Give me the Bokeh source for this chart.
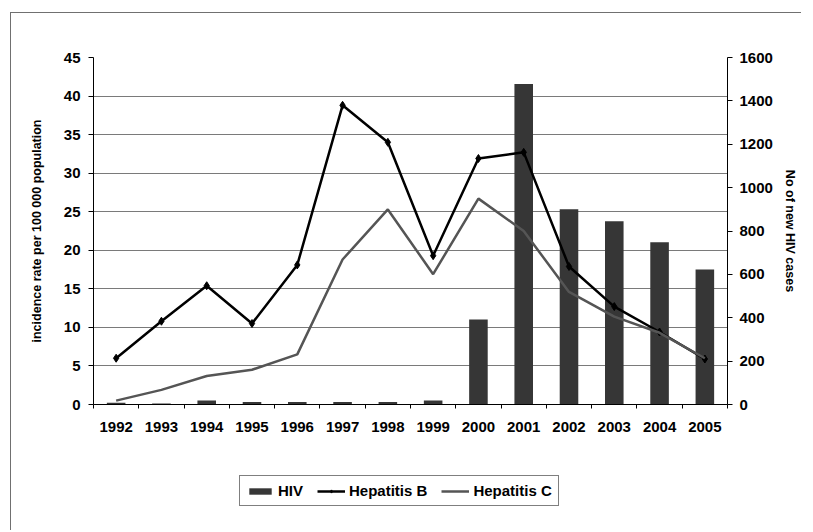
from bokeh.plotting import figure
from bokeh.models import Range1d, LinearAxis, FixedTicker, Legend, LegendItem
from bokeh.layouts import column
from bokeh.embed import file_html
from bokeh.resources import INLINE

years = [1992, 1993, 1994, 1995, 1996, 1997, 1998, 1999, 2000, 2001, 2002, 2003, 2004, 2005]
hiv = [8, 5, 18, 12, 12, 12, 12, 18, 392, 1478, 900, 845, 748, 623]
hep_b = [6.0, 10.8, 15.4, 10.5, 18.1, 38.8, 34.0, 19.3, 31.9, 32.7, 17.9, 12.7, 9.4, 5.9]
hep_c = [0.5, 1.9, 3.7, 4.5, 6.5, 18.8, 25.3, 16.9, 26.7, 22.5, 14.6, 11.4, 9.3, 6.0]
left_ticks = [0, 5, 10, 15, 20, 25, 30, 35, 40, 45]
right_ticks = [0, 200, 400, 600, 800, 1000, 1200, 1400, 1600]
series_names = ["HIV", "Hepatitis B", "Hepatitis C"]

FONT = "Liberation Sans"
BAR_COLOR = "#363636"
HEPB_COLOR = "black"
HEPC_COLOR = "#555555"

p = figure(width=790, height=451, output_backend="svg", toolbar_location=None,
           x_range=Range1d(years[0] - 0.5, years[-1] + 0.5),
           y_range=Range1d(left_ticks[0], left_ticks[-1]),
           min_border_left=82, min_border_right=74, min_border_top=44, min_border_bottom=60,
           frame_width=634, frame_height=347)
p.extra_y_ranges = {"hiv": Range1d(right_ticks[0], right_ticks[-1])}
p.outline_line_color = None
p.background_fill_color = "white"
p.border_fill_color = "white"

# bars and lines
p.vbar(x=years, top=hiv, width=0.41, bottom=0, y_range_name="hiv",
       fill_color=BAR_COLOR, line_color=None)
p.line(years, hep_b, line_color=HEPB_COLOR, line_width=2.5)
p.scatter(years, hep_b, marker="diamond", size=8, fill_color=HEPB_COLOR, line_color=HEPB_COLOR)
p.line(years, hep_c, line_color=HEPC_COLOR, line_width=2.5)

# x axis
xax = p.xaxis[0]
xax.ticker = FixedTicker(ticks=years, minor_ticks=[y - 0.5 for y in years] + [years[-1] + 0.5])
xax.major_tick_line_color = None
xax.major_tick_out = 0
xax.major_tick_in = 0
xax.minor_tick_out = 4
xax.minor_tick_in = 0
xax.minor_tick_line_color = "black"
xax.axis_line_color = "black"
xax.major_label_standoff = 13
xax.major_label_text_font = FONT
xax.major_label_text_font_style = "bold"
xax.major_label_text_font_size = "15px"
xax.major_label_text_color = "black"
p.xgrid.visible = False

# left axis
yax = p.yaxis[0]
yax.ticker = FixedTicker(ticks=left_ticks)
yax.minor_tick_line_color = None
yax.major_tick_out = 5
yax.major_tick_in = 0
yax.major_tick_line_color = "black"
yax.axis_line_color = "black"
yax.major_label_standoff = 8
yax.major_label_text_font = FONT
yax.major_label_text_font_style = "bold"
yax.major_label_text_font_size = "15px"
yax.major_label_text_color = "black"
yax.axis_label = "incidence rate per 100 000 population"
yax.axis_label_text_font = FONT
yax.axis_label_text_font_style = "bold"
yax.axis_label_text_font_size = "12.5px"
yax.axis_label_text_color = "black"
yax.axis_label_standoff = 17
p.ygrid.ticker = FixedTicker(ticks=left_ticks)
p.ygrid.grid_line_color = "#7a7a7a"
p.ygrid.grid_line_width = 1

# right axis
rax = LinearAxis(y_range_name="hiv", ticker=FixedTicker(ticks=right_ticks))
rax.minor_tick_line_color = None
rax.major_tick_out = 5
rax.major_tick_in = 0
rax.major_tick_line_color = "black"
rax.axis_line_color = "black"
rax.major_label_standoff = 7
rax.major_label_text_font = FONT
rax.major_label_text_font_style = "bold"
rax.major_label_text_font_size = "15px"
rax.major_label_text_color = "black"
rax.axis_label = "No of new HIV cases"
rax.axis_label_text_font = FONT
rax.axis_label_text_font_style = "bold"
rax.axis_label_text_font_size = "12.5px"
rax.axis_label_text_color = "black"
rax.axis_label_standoff = 7
p.add_layout(rax, "right")

# legend strip below the chart (a separate canvas so it is not clipped);
# its swatch renderers hold one point each, placed outside the visible range
lf = figure(width=790, height=66, output_backend="svg", toolbar_location=None,
            x_range=Range1d(0, 1), y_range=Range1d(0, 1), min_border=0)
lf.axis.visible = False
lf.grid.visible = False
lf.outline_line_color = None
lf.background_fill_color = "white"
lf.border_fill_color = "white"
g_hiv = lf.vbar(x=[-10], top=[-10], bottom=[-11], width=0.4, fill_color=BAR_COLOR, line_color=None)
g_b = lf.line([-10, -9], [-10, -10], line_color=HEPB_COLOR, line_width=2.5)
g_bm = lf.scatter([-10], [-10], marker="diamond", size=8, fill_color=HEPB_COLOR, line_color=HEPB_COLOR)
g_c = lf.line([-10, -9], [-10, -10], line_color=HEPC_COLOR, line_width=2.5)

leg = Legend(items=[LegendItem(label=series_names[0], renderers=[g_hiv]),
                    LegendItem(label=series_names[1], renderers=[g_b, g_bm]),
                    LegendItem(label=series_names[2], renderers=[g_c])])
leg.orientation = "horizontal"
leg.location = (146, 24)
leg.border_line_color = "black"
leg.border_line_width = 1
leg.background_fill_color = "white"
leg.background_fill_alpha = 1
leg.padding = 6
leg.margin = 0
leg.spacing = 14
leg.glyph_width = 28
leg.glyph_height = 8
leg.label_height = 13
leg.label_standoff = 4
leg.label_text_font = FONT
leg.label_text_font_style = "bold"
leg.label_text_font_size = "15px"
leg.label_text_color = "black"
lf.add_layout(leg, "center")

layout = column(p, lf, spacing=0)
layout.styles = {"border-left": "1px solid #707070", "border-top": "1px solid #707070",
                 "margin-left": "10px", "margin-top": "12px"}

open("out.html", "w").write(file_html(layout, INLINE))
